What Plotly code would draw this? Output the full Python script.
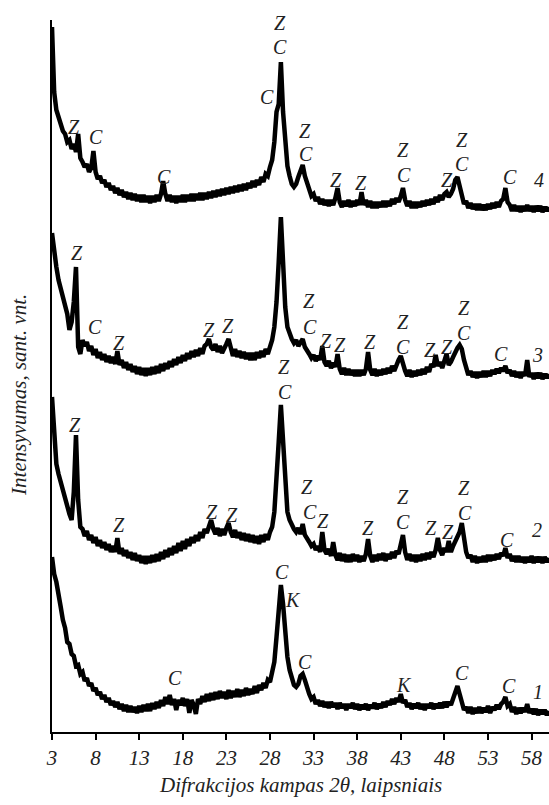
import plotly.graph_objects as go

# Diffraction angle grid: 3.00 .. 60.00 deg, step 0.25
STEP = 0.25
START = 3.0

# Intensity values (arbitrary units), one per 0.25 deg
curve1 = [175,158,150,134,125,112,104,90,88,78,76,66,67,58,60,51,54,46,49,41,
          44,37,40,33,37,30,34,27,31,25,30,23,28,21,27,20,26,20,25,19,
          26,20,27,21,28,21,29,23,30,24,32,26,35,28,37,27,33,22,32,27,
          34,26,33,19,32,27,18,33,28,36,30,38,31,39,32,40,33,41,34,40,
          33,42,34,41,35,43,35,42,36,44,37,43,38,46,39,47,42,49,44,52,
          50,60,70,95,125,147,128,95,75,62,55,47,45,48,56,58,52,43,38,33,
          35,28,32,26,31,25,30,24,30,25,29,23,29,24,28,22,28,24,29,23,
          28,22,27,23,28,22,27,24,29,23,28,24,30,25,31,27,33,28,34,30,
          38,29,32,25,29,23,28,24,29,23,28,22,28,24,29,23,28,24,29,24,
          30,25,30,27,34,42,46,38,30,22,25,19,25,18,24,19,25,19,24,20,
          26,19,25,22,27,23,28,30,35,26,28,20,25,18,24,19,24,20,28,19,
          23,18,23,17,22,18,22,17,21]

curve2 = [335,290,268,258,250,238,232,222,218,212,240,297,232,205,203,196,201,192,197,189,
          195,186,192,184,190,182,188,180,186,180,194,178,184,176,182,174,180,172,179,171,
          177,169,176,168,176,169,177,170,178,171,180,173,182,175,184,177,186,179,189,181,
          191,183,193,186,195,189,197,191,200,194,203,199,206,212,203,198,204,196,203,197,
          204,209,200,195,202,194,200,192,199,191,198,190,197,189,196,188,197,190,198,192,
          200,205,220,250,290,327,290,245,220,212,206,203,200,204,198,208,197,194,190,186,
          188,182,186,180,200,182,178,183,176,190,177,172,179,171,178,170,177,170,178,171,
          177,170,176,171,178,193,176,170,177,171,178,172,179,171,178,173,180,174,181,178,
          190,197,180,172,178,171,177,170,177,171,178,172,179,173,180,175,182,194,182,177,
          184,180,191,180,186,190,195,200,209,196,180,174,177,170,176,169,175,170,176,170,
          177,171,177,172,178,173,179,176,184,174,178,171,176,170,176,170,175,169,175,170,
          176,169,175,170,175,169,175,170,174]

curve3 = [499,478,465,452,444,434,428,418,402,410,430,465,385,378,392,386,390,381,386,377,
          383,374,380,372,378,370,376,369,375,368,381,367,372,364,370,362,368,360,366,358,
          365,357,364,356,364,357,365,358,366,359,368,361,369,363,371,365,373,367,375,369,
          377,371,379,373,381,375,382,376,384,378,386,388,393,385,382,388,380,386,379,385,
          388,393,382,376,383,375,381,374,380,373,379,372,379,372,380,374,381,375,383,378,
          385,392,405,430,470,515,470,425,405,398,393,389,392,386,390,393,385,382,378,374,
          377,371,376,372,386,370,366,371,364,369,365,378,363,358,364,357,363,357,362,356,
          362,356,362,357,363,380,362,357,363,356,362,357,363,358,364,359,366,361,368,372,
          376,366,361,356,362,355,361,356,362,357,363,358,365,360,368,365,377,366,370,364,
          371,378,367,370,375,380,384,387,383,372,362,357,361,355,360,354,360,355,361,355,
          361,356,362,358,363,359,364,361,366,359,362,356,361,355,360,354,360,356,372,355,
          359,353,359,354,359,353,358,354,358]

curve4 = [705,640,622,614,610,601,598,590,592,583,588,580,598,574,570,565,568,560,564,581,
          560,553,556,549,552,545,549,542,546,539,544,537,542,535,540,533,539,532,538,531,
          537,530,537,530,536,529,536,530,537,531,538,551,538,531,537,530,536,529,536,530,
          537,530,537,531,538,531,538,532,539,532,539,533,540,534,541,535,542,536,543,537,
          544,538,545,539,546,540,547,541,548,542,549,544,551,545,552,547,555,550,558,556,
          565,572,590,620,628,670,620,585,566,556,548,545,548,555,560,567,556,548,541,536,
          538,531,535,528,533,527,532,526,532,527,534,544,530,525,531,526,532,525,531,526,
          532,527,540,527,532,525,531,524,530,524,530,525,531,525,531,526,533,528,534,530,
          536,544,532,526,531,524,530,524,530,525,531,526,532,527,533,528,535,530,537,532,
          538,540,535,538,543,552,555,546,536,528,531,524,529,523,528,522,528,522,527,522,
          528,523,529,524,530,525,531,533,544,530,527,521,527,521,526,520,526,521,527,521,
          526,520,526,521,526,520,525,521,525]

curves = [curve1, curve2, curve3, curve4]

tick_vals = [3, 8, 13, 18, 23, 28, 33, 38, 43, 48, 53, 58]

# Phase labels: (text, angle, intensity)
labels = [
    # curve 4
    ("Z", 5.48, 605), ("C", 8.0, 595), ("C", 15.9, 555), ("C", 27.7, 635),
    ("Z", 29.2, 709), ("C", 29.2, 685), ("Z", 31.97, 601), ("C", 32.1, 578),
    ("Z", 35.6, 552), ("Z", 38.4, 549), ("Z", 43.3, 582), ("C", 43.4, 557),
    ("Z", 48.25, 552), ("Z", 50.0, 592), ("C", 50.0, 568), ("C", 55.5, 555),
    ("4", 58.9, 552),
    # curve 3
    ("Z", 5.82, 479), ("C", 7.9, 405), ("Z", 10.65, 389), ("Z", 20.96, 402),
    ("Z", 23.14, 406), ("Z", 32.43, 431), ("C", 32.55, 405), ("Z", 34.4, 391),
    ("Z", 36.0, 387), ("Z", 39.5, 390), ("Z", 43.2, 410), ("C", 43.2, 385),
    ("Z", 46.3, 382), ("Z", 48.25, 385), ("Z", 50.2, 424), ("C", 50.2, 399),
    ("C", 54.55, 378), ("3", 58.67, 377),
    # curve 2
    ("Z", 5.6, 307), ("Z", 10.65, 207), ("Z", 21.3, 220), ("Z", 23.7, 217),
    ("Z", 29.55, 365), ("C", 29.67, 340), ("Z", 32.3, 245), ("C", 32.55, 220),
    ("Z", 34.1, 211), ("Z", 39.2, 204), ("Z", 43.2, 235), ("C", 43.3, 210),
    ("Z", 46.5, 204), ("Z", 48.4, 200), ("Z", 50.3, 244), ("C", 50.4, 219),
    ("C", 55.2, 192), ("2", 58.6, 202),
    # curve 1
    ("C", 29.4, 160), ("K", 30.6, 132), ("C", 17.06, 54), ("C", 31.96, 70),
    ("K", 43.4, 47), ("C", 50.0, 59), ("C", 55.4, 46), ("1", 58.7, 40),
]

FONT = "Liberation Serif, Times New Roman, serif"

fig = go.Figure()
for c in curves:
    xs = [START + STEP * i for i in range(len(c))]
    fig.add_trace(go.Scatter(x=xs, y=c, mode="lines",
                             line=dict(color="black", width=4.5),
                             showlegend=False, hoverinfo="skip"))

annotations = []
for t, x, y in labels:
    annotations.append(dict(x=x, y=y, xref="x", yref="y", text=t, showarrow=False,
                            font=dict(family=FONT, size=20, color="#222", style="italic"),
                            xanchor="center", yanchor="middle"))

annotations.append(dict(x=0.499, y=-0.074, xref="paper", yref="paper",
                        text="Difrakcijos kampas 2θ, laipsniais", showarrow=False,
                        font=dict(family=FONT, size=21, color="#222", style="italic"),
                        xanchor="center", yanchor="middle"))
annotations.append(dict(x=-0.065, y=0.473, xref="paper", yref="paper",
                        text="Intensyvumas, sant. vnt.", showarrow=False, textangle=-90,
                        font=dict(family=FONT, size=21, color="#222", style="italic"),
                        xanchor="center", yanchor="middle"))

fig.update_layout(
    width=549, height=805,
    margin=dict(l=52, r=0, t=20, b=73),
    paper_bgcolor="white", plot_bgcolor="white",
    annotations=annotations,
    xaxis=dict(range=[3, 60], tickvals=tick_vals, ticktext=[str(v) for v in tick_vals],
               ticks="outside", ticklen=6, tickwidth=1.5, tickcolor="black",
               showline=True, linecolor="black", linewidth=2, showgrid=False,
               zeroline=False,
               tickfont=dict(family=FONT, size=21, color="#222", style="italic")),
    yaxis=dict(range=[0, 712], showticklabels=False, ticks="", showgrid=False,
               zeroline=False, showline=True, linecolor="black", linewidth=2),
)

fig.write_html("out.html")
